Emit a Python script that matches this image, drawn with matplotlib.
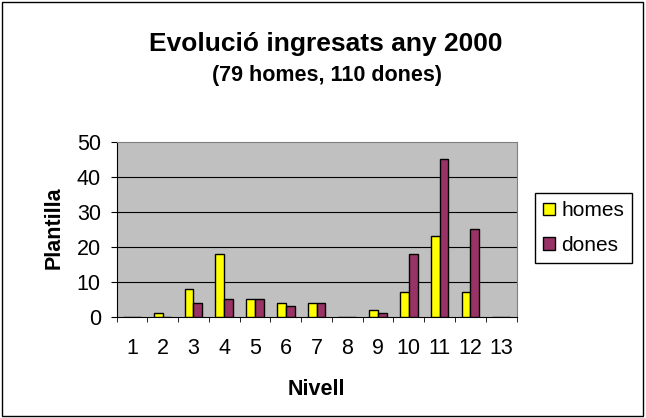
import numpy as np
import matplotlib
matplotlib.use('Agg')
import matplotlib.pyplot as plt
from matplotlib.patches import Rectangle

plt.rcParams['font.family'] = ['Liberation Sans', 'DejaVu Sans']

nivells = [str(i) for i in range(1, 14)]
homes = [0, 1, 8, 18, 5, 4, 4, 0, 2, 7, 23, 7, 0]
dones = [0, 0, 4, 5, 5, 3, 4, 0, 1, 18, 45, 25, 0]

W, H = 646, 418
fig = plt.figure(figsize=(W / 100, H / 100), dpi=100)
# outer chart border
fig.patches.append(Rectangle((0.003, 0.005), 0.993, 0.99, transform=fig.transFigure,
                             fill=False, edgecolor='black', linewidth=1))

ax = fig.add_axes([116.5 / W, 1 - 316.7 / H, 400 / W, 175 / H])
ax.set_facecolor('#C0C0C0')

x = np.arange(len(nivells))
w = 2 / 7
ax.bar(x - w / 2, homes, w, color='#FFFF00', edgecolor='black', linewidth=1, label='homes', zorder=3)
ax.bar(x + w / 2, dones, w, color='#993366', edgecolor='black', linewidth=1, label='dones', zorder=3)

ax.set_xlim(-0.5, len(nivells) - 0.5)
ax.set_ylim(0, 50)
ax.set_yticks(range(0, 51, 10))
for y in range(10, 50, 10):
    ax.axhline(y, color='black', linewidth=0.8, zorder=1)

ax.set_xticks(x)
ax.set_xticklabels(nivells)
ax.set_xticks(np.arange(-0.5, len(nivells)), minor=True)
ax.tick_params(axis='x', which='major', length=0, labelsize=15.5, pad=15.5)
ax.tick_params(axis='x', which='minor', length=3.6, direction='out')
ax.tick_params(axis='y', length=4.3, direction='out', labelsize=15.5, pad=7)

ax.spines['top'].set_color('#808080')
ax.spines['right'].set_color('#808080')

fig.text(316 / W, 1 - 395 / H, 'Nivell', ha='center', va='baseline',
         fontsize=15.5, fontweight='bold')
fig.text(54 / W, 1 - 228 / H, 'Plantilla', ha='center', va='center', rotation=90,
         fontsize=15.5, fontweight='bold')

fig.text(326 / W, 1 - 51 / H, 'Evolució ingresats any 2000', ha='center', va='baseline',
         fontsize=19, fontweight='bold')
fig.text(327 / W, 1 - 81 / H, '(79 homes, 110 dones)', ha='center', va='baseline',
         fontsize=15.5, fontweight='bold')

leg = fig.legend(*ax.get_legend_handles_labels(), loc='upper left',
                 bbox_to_anchor=(535 / W, 1 - 193 / H), fontsize=15,
                 frameon=True, fancybox=False, edgecolor='black', framealpha=1,
                 handlelength=0.55, handleheight=0.55, handletextpad=0.3,
                 borderpad=0.4, labelspacing=0.75, borderaxespad=0)
leg.get_frame().set_linewidth(1)

fig.savefig('out.png', dpi=100)
